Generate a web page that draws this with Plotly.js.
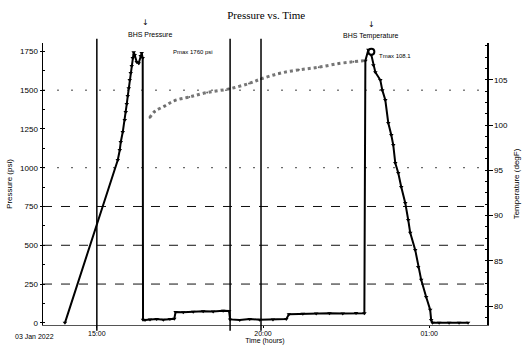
<!DOCTYPE html>
<html>
<head>
<meta charset="utf-8">
<script src="https://cdn.plot.ly/plotly-3.0.1.min.js"></script>
<style>html,body{margin:0;padding:0;background:#fff;}#chart{width:522px;height:350px;}</style>
</head>
<body>
<div id="chart"></div>
<script>
// Time in hours (15 = 15:00, 25 = 01:00 next day)
const pressureTime = [14.04, 15.63, 15.69, 15.72, 15.78, 15.84, 15.87, 15.90, 15.93, 15.96, 15.99, 16.02, 16.05, 16.08, 16.11, 16.14, 16.20, 16.26, 16.32, 16.35, 16.38,
  16.39, 16.45, 16.60, 16.80, 17.00, 17.20, 17.33,
  17.37, 17.60, 17.90, 18.20, 18.50, 18.80, 18.98,
  19.01, 19.30, 19.60, 19.90, 20.30, 20.70,
  20.78, 21.20, 21.60, 22.00, 22.40, 22.80, 23.05,
  23.08, 23.17, 23.26, 23.32, 23.38, 23.53, 23.59, 23.68, 23.77, 23.86, 23.92, 23.98, 24.07, 24.16, 24.28, 24.37, 24.43, 24.58, 24.67, 24.76, 24.91, 25.03, 25.06,
  25.10, 25.30, 25.60, 25.90, 26.17];
const pressurePsi = [0, 1050, 1114, 1166, 1230, 1307, 1359, 1410, 1462, 1513, 1565, 1610, 1655, 1707, 1745, 1726, 1681, 1674, 1720, 1739, 1707,
  20, 18, 22, 25, 20, 24, 26,
  70, 68, 72, 75, 73, 78, 76,
  22, 18, 25, 20, 22, 24,
  55, 58, 60, 62, 60, 63, 62,
  1690, 1760, 1726, 1661, 1616, 1565, 1500, 1436, 1288, 1211, 1146, 1030, 966, 876, 773, 663, 580, 470, 360, 277, 167, 84, 19,
  0, 0, 0, 0, 0];

const tempTime = [16.59, 16.74, 17.04, 17.34, 17.78, 18.32, 18.98, 19.58, 19.94, 20.48, 21.08, 21.68, 22.28, 22.72, 23.02];
const tempValue = [100.8, 101.5, 102.1, 102.7, 103.1, 103.6, 104.0, 104.6, 105.1, 105.7, 106.1, 106.4, 106.8, 107.0, 107.1];
const tempPeakTime = [23.26];
const tempPeakValue = [108.1];

const eventTimes = [15.0, 19.01, 19.94];
const gridDark = [250, 500, 750];
const gridLight = [1000, 1500];

const xTickVals = [15, 20, 25];
const xTickText = ['15:00', '20:00', '01:00'];
const yTickVals = [0, 250, 500, 750, 1000, 1250, 1500, 1750];
const y2TickVals = [80, 85, 90, 95, 100, 105];

const startLabel = '03 Jan 2022';
const pressureEventLabel = 'BHS Pressure';
const tempEventLabel = 'BHS Temperature';
const maxPressureLabel = 'Pmax 1760 psi';
const maxTempLabel = 'Tmax 108.1';

const pressureTrace = {
  x: pressureTime, y: pressurePsi, type: 'scatter', mode: 'lines+markers',
  line: {color: '#000', width: 2},
  marker: {color: '#000', size: 4, symbol: 'triangle-down'},
  yaxis: 'y', hoverinfo: 'skip'
};
const tempTrace = {
  x: tempTime, y: tempValue, type: 'scatter', mode: 'lines+markers',
  line: {color: '#777', width: 3, dash: 'dot', shape: 'spline'},
  marker: {color: '#666', size: 2},
  yaxis: 'y2', hoverinfo: 'skip'
};
const tempPeakTrace = {
  x: tempPeakTime, y: tempPeakValue, type: 'scatter', mode: 'markers',
  marker: {color: '#fff', size: 6, symbol: 'circle', line: {color: '#000', width: 2}},
  yaxis: 'y2', hoverinfo: 'skip'
};

const shapes = [];
eventTimes.forEach(t => shapes.push({type: 'line', xref: 'x', yref: 'paper', x0: t, x1: t, y0: -0.02, y1: 1.015, line: {color: '#000', width: 1.5}}));
gridDark.forEach(v => shapes.push({type: 'line', xref: 'paper', yref: 'y', x0: 0, x1: 1, y0: v, y1: v, line: {color: '#111', width: 1, dash: 'dash'}, layer: 'below'}));
gridLight.forEach(v => shapes.push({type: 'line', xref: 'paper', yref: 'y', x0: 0, x1: 1, y0: v, y1: v, line: {color: '#444', width: 1, dash: '2px,12px'}, layer: 'below'}));

const iMaxP = pressurePsi.indexOf(Math.max(...pressurePsi.slice(0, 25)));

const arrowFont = {size: 8, family: 'DejaVu Sans, sans-serif', color: '#000'};

const layout = {
  width: 522, height: 350,
  margin: {l: 43, r: 35, t: 43, b: 25},
  paper_bgcolor: '#fff', plot_bgcolor: '#fff',
  showlegend: false,
  font: {family: 'Liberation Sans, Arial, sans-serif', size: 8, color: '#000'},
  title: {text: 'Pressure vs. Time', font: {family: 'Liberation Serif, Times New Roman, serif', size: 11, color: '#000'}, x: 0.51, xanchor: 'center', y: 0.957, yanchor: 'middle'},
  xaxis: {
    range: [13.38, 26.74], tickvals: xTickVals, ticktext: xTickText,
    showgrid: false, zeroline: false, showline: true, linecolor: '#555', linewidth: 1,
    ticks: 'outside', ticklen: 2, tickcolor: '#000',
    tickfont: {size: 7, family: 'Liberation Sans, Arial, sans-serif'},
    title: {text: 'Time (hours)', font: {size: 7}, standoff: 0},
    automargin: false
  },
  yaxis: {
    range: [-14, 1804], tickvals: yTickVals,
    showgrid: false, zeroline: false, showline: true, linecolor: '#000', linewidth: 1.5,
    ticks: 'outside', ticklen: 2, tickcolor: '#000',
    minor: {ticks: 'inside', ticklen: 2, dtick: 125, tickcolor: '#000'},
    tickfont: {size: 8},
    title: {text: 'Pressure (psi)', font: {size: 8}, standoff: 6},
    automargin: false
  },
  yaxis2: {
    range: [77.9, 109.07], tickvals: y2TickVals, overlaying: 'y', side: 'right',
    showgrid: false, zeroline: false, showline: true, linecolor: '#000', linewidth: 1.5,
    ticks: 'outside', ticklen: 4, tickcolor: '#000',
    minor: {ticks: 'inside', ticklen: 2, dtick: 1.25, tickcolor: '#000'},
    tickfont: {size: 8},
    title: {text: 'Temperature (degF)', font: {size: 8}, standoff: 6},
    automargin: false
  },
  shapes: shapes,
  annotations: [
    {xref: 'x', yref: 'paper', x: pressureTime[iMaxP], y: 1.0, yanchor: 'bottom', xshift: 12, yshift: 14,
     text: '↓', showarrow: false, font: arrowFont},
    {xref: 'x', yref: 'paper', x: pressureTime[iMaxP], y: 1.0, yanchor: 'bottom', xshift: 16, yshift: 3,
     text: pressureEventLabel, showarrow: false, font: {size: 7}},
    {xref: 'x', yref: 'paper', x: tempPeakTime[0], y: 1.0, yanchor: 'bottom', xshift: 0, yshift: 12,
     text: '↓', showarrow: false, font: arrowFont},
    {xref: 'x', yref: 'paper', x: tempPeakTime[0], y: 1.0, yanchor: 'bottom', xshift: 0, yshift: 1,
     text: tempEventLabel, showarrow: false, font: {size: 7}},
    {xref: 'x', yref: 'y', x: pressureTime[iMaxP], y: pressurePsi[iMaxP], xanchor: 'left', xshift: 37, showarrow: false,
     text: maxPressureLabel, font: {size: 6}},
    {xref: 'x', yref: 'y2', x: tempPeakTime[0], y: tempPeakValue[0], xanchor: 'left', xshift: 6, yshift: -4, showarrow: false,
     text: maxTempLabel, font: {size: 6}},
    {xref: 'paper', yref: 'paper', x: -0.02, y: 0, yanchor: 'top', xanchor: 'center', yshift: -6, showarrow: false,
     text: startLabel, font: {size: 7}}
  ]
};

Plotly.newPlot('chart', [tempTrace, pressureTrace, tempPeakTrace], layout, {staticPlot: true, displayModeBar: false});
</script>
</body>
</html>
